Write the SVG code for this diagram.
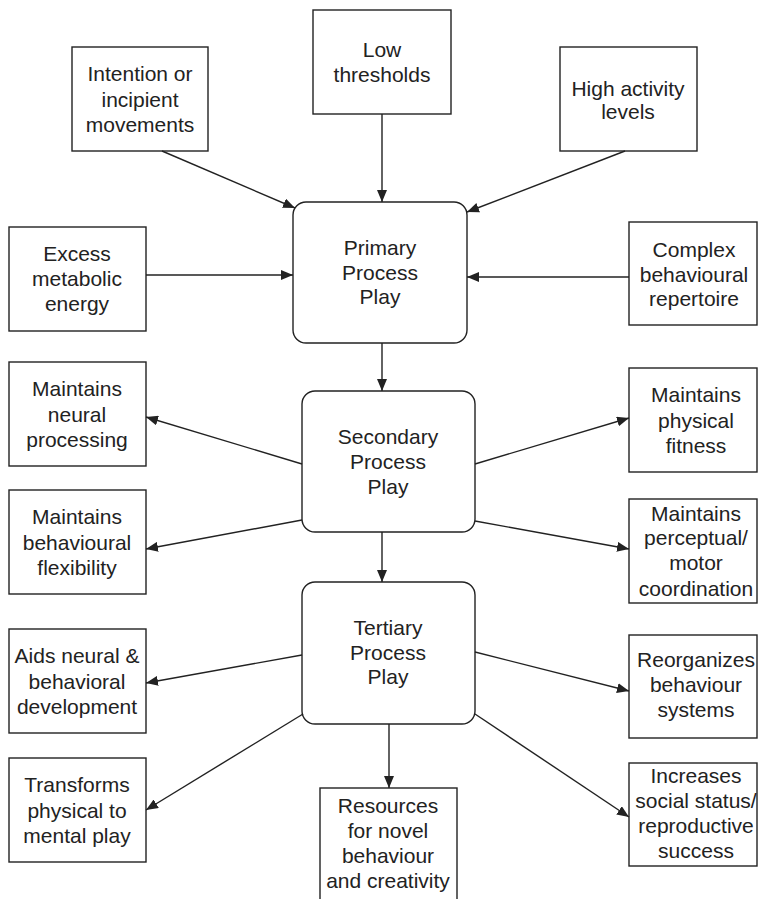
<svg xmlns="http://www.w3.org/2000/svg" width="758" height="899" viewBox="0 0 758 899">
<style>
.b{fill:#fff;stroke:#222;stroke-width:1.4}
.t{font-family:"Liberation Sans",Arial,sans-serif;font-size:21px;fill:#222;text-anchor:middle}
.c line{stroke:#222;stroke-width:1.4;marker-end:url(#arr)}
</style>
<defs>
<marker id="arr" viewBox="0 0 12 10" refX="12" refY="5" markerWidth="12" markerHeight="10" markerUnits="userSpaceOnUse" orient="auto"><path d="M0,0 L12,5 L0,10 z" fill="#222"/></marker>
</defs>
<rect width="758" height="899" fill="#fff"/>
<g id="intention"><rect class="b" x="72" y="47" width="136" height="104"/><text class="t" x="140"><tspan x="140" y="81">Intention or</tspan><tspan x="140" y="107">incipient</tspan><tspan x="140" y="132">movements</tspan></text></g>
<g id="low"><rect class="b" x="313" y="10" width="138" height="104"/><text class="t"><tspan x="382" y="57">Low</tspan><tspan x="382" y="82">thresholds</tspan></text></g>
<g id="high"><rect class="b" x="560" y="47" width="137" height="104"/><text class="t"><tspan x="628" y="96">High activity</tspan><tspan x="628" y="119">levels</tspan></text></g>
<g id="excess"><rect class="b" x="9" y="227" width="137" height="104"/><text class="t"><tspan x="77" y="261">Excess</tspan><tspan x="77" y="286">metabolic</tspan><tspan x="77" y="311">energy</tspan></text></g>
<g id="complex"><rect class="b" x="629" y="222" width="128" height="103"/><text class="t"><tspan x="694" y="257">Complex</tspan><tspan x="694" y="282">behavioural</tspan><tspan x="694" y="306">repertoire</tspan></text></g>
<g id="primary"><rect class="b" x="293" y="202" width="174" height="141" rx="13"/><text class="t"><tspan x="380" y="255">Primary</tspan><tspan x="380" y="280">Process</tspan><tspan x="380" y="304">Play</tspan></text></g>
<g id="secondary"><rect class="b" x="302" y="391" width="173" height="141" rx="13"/><text class="t"><tspan x="388" y="444">Secondary</tspan><tspan x="388" y="469">Process</tspan><tspan x="388" y="494">Play</tspan></text></g>
<g id="tertiary"><rect class="b" x="302" y="582" width="173" height="142" rx="13"/><text class="t"><tspan x="388" y="635">Tertiary</tspan><tspan x="388" y="660">Process</tspan><tspan x="388" y="684">Play</tspan></text></g>
<g id="neural"><rect class="b" x="9" y="362" width="137" height="104"/><text class="t"><tspan x="77" y="396">Maintains</tspan><tspan x="77" y="422">neural</tspan><tspan x="77" y="447">processing</tspan></text></g>
<g id="flex"><rect class="b" x="9" y="490" width="137" height="104"/><text class="t"><tspan x="77" y="524">Maintains</tspan><tspan x="77" y="550">behavioural</tspan><tspan x="77" y="575">flexibility</tspan></text></g>
<g id="fitness"><rect class="b" x="629" y="368" width="128" height="104"/><text class="t"><tspan x="696" y="402">Maintains</tspan><tspan x="696" y="428">physical</tspan><tspan x="696" y="453">fitness</tspan></text></g>
<g id="perceptual"><rect class="b" x="629" y="499" width="128" height="104"/><text class="t"><tspan x="696" y="521">Maintains</tspan><tspan x="696" y="545">perceptual/</tspan><tspan x="696" y="570">motor</tspan><tspan x="696" y="596">coordination</tspan></text></g>
<g id="aids"><rect class="b" x="9" y="629" width="137" height="104"/><text class="t"><tspan x="77" y="663">Aids neural &amp;</tspan><tspan x="77" y="689">behavioral</tspan><tspan x="77" y="714">development</tspan></text></g>
<g id="transforms"><rect class="b" x="9" y="758" width="137" height="104"/><text class="t"><tspan x="77" y="792">Transforms</tspan><tspan x="77" y="818">physical to</tspan><tspan x="77" y="843">mental play</tspan></text></g>
<g id="resources"><rect class="b" x="320" y="788" width="137" height="130"/><text class="t"><tspan x="388" y="813">Resources</tspan><tspan x="388" y="838">for novel</tspan><tspan x="388" y="863">behaviour</tspan><tspan x="388" y="888">and creativity</tspan></text></g>
<g id="reorganizes"><rect class="b" x="629" y="635" width="128" height="103"/><text class="t"><tspan x="696" y="667">Reorganizes</tspan><tspan x="696" y="692">behaviour</tspan><tspan x="696" y="717">systems</tspan></text></g>
<g id="increases"><rect class="b" x="629" y="763" width="128" height="103"/><text class="t"><tspan x="696" y="783">Increases</tspan><tspan x="696" y="808">social status/</tspan><tspan x="696" y="833">reproductive</tspan><tspan x="696" y="858">success</tspan></text></g>
<g id="connectors" class="c">
<line x1="162" y1="151" x2="295" y2="208"/>
<line x1="382" y1="114" x2="382" y2="202"/>
<line x1="625" y1="151" x2="467" y2="212"/>
<line x1="146" y1="275" x2="293" y2="275"/>
<line x1="629" y1="277" x2="467" y2="277"/>
<line x1="382" y1="343" x2="382" y2="391"/>
<line x1="302" y1="464" x2="146" y2="417"/>
<line x1="302" y1="520" x2="146" y2="549"/>
<line x1="475" y1="464" x2="629" y2="418"/>
<line x1="475" y1="521" x2="629" y2="549"/>
<line x1="382" y1="532" x2="382" y2="582"/>
<line x1="302" y1="655" x2="146" y2="683"/>
<line x1="303" y1="714" x2="146" y2="810"/>
<line x1="389" y1="724" x2="389" y2="788"/>
<line x1="475" y1="652" x2="629" y2="691"/>
<line x1="475" y1="714" x2="629" y2="817"/>
</g>
</svg>
